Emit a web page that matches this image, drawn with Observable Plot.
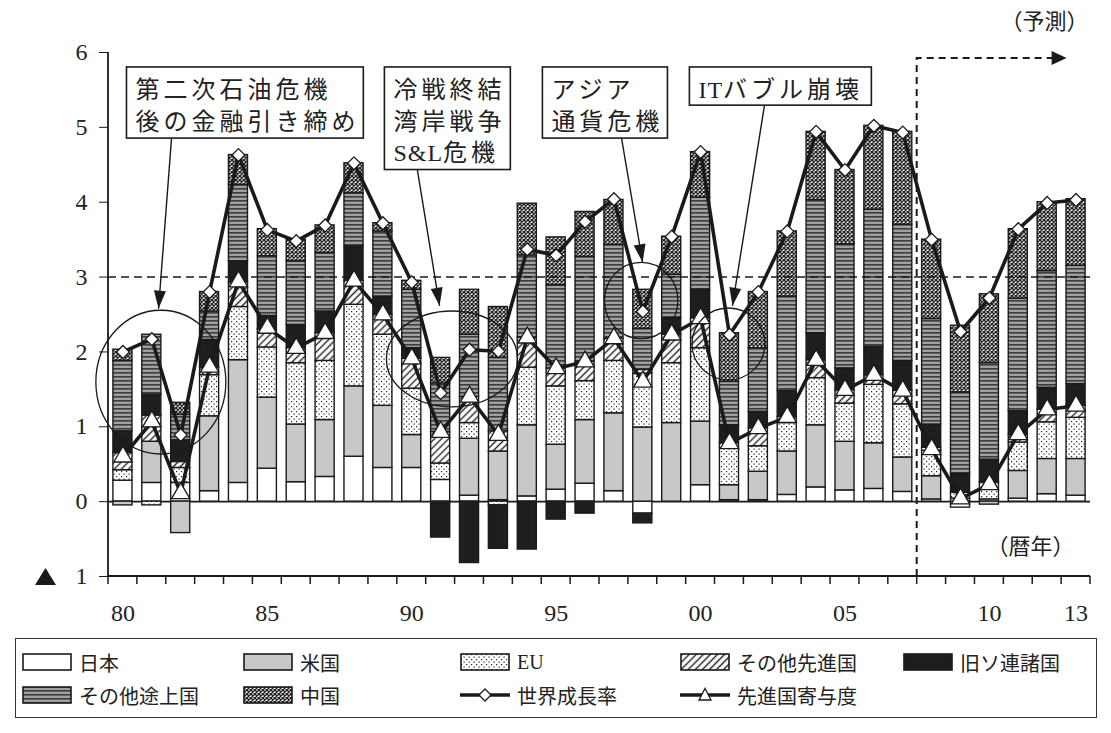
<!DOCTYPE html>
<html>
<head>
<meta charset="utf-8">
<script src="https://cdn.jsdelivr.net/npm/d3@7"></script>
<script src="https://cdn.jsdelivr.net/npm/@observablehq/plot@0.6"></script>
<style>
  body { margin: 0; background: #fff; }
  #wrap { position: relative; width: 1111px; height: 733px; overflow: hidden; }
  #legend { position: absolute; left: 15px; top: 638px; width: 1082px; height: 80px;
            border: 1.5px solid #333; box-sizing: border-box; }
  .item { position: absolute; display: flex; align-items: center; height: 24px;
          font: 20px "Liberation Serif", "Noto Sans CJK JP", serif; color: #222; }
  .item svg { margin-right: 7px; }
</style>
</head>
<body>
<!-- fill patterns shared by the bars and the legend swatches -->
<svg width="0" height="0" style="position:absolute">
  <defs>
    <pattern id="p-eu" patternUnits="userSpaceOnUse" width="5" height="5">
      <rect width="5" height="5" fill="#fff"/>
      <rect x="1" y="1" width="1.2" height="1.2" fill="#222"/>
      <rect x="3.5" y="3.5" width="1.2" height="1.2" fill="#222"/>
    </pattern>
    <pattern id="p-oadv" patternUnits="userSpaceOnUse" width="5" height="5" patternTransform="rotate(45)">
      <rect width="5" height="5" fill="#fff"/>
      <line x1="2.5" y1="0" x2="2.5" y2="5" stroke="#222" stroke-width="1.4"/>
    </pattern>
    <pattern id="p-odev" patternUnits="userSpaceOnUse" width="6" height="4">
      <rect width="6" height="4" fill="#a0a0a0"/>
      <rect y="0" width="6" height="1.6" fill="#3c3c3c"/>
    </pattern>
    <pattern id="p-china" patternUnits="userSpaceOnUse" width="4" height="4">
      <rect width="4" height="4" fill="#fff"/>
      <path d="M0,0L4,4M4,0L0,4" stroke="#222" stroke-width="1.4"/>
    </pattern>
  </defs>
</svg>
<div id="wrap"></div>
<script>
// 暦年
const years = [1980, 1981, 1982, 1983, 1984, 1985, 1986, 1987, 1988, 1989,
               1990, 1991, 1992, 1993, 1994, 1995, 1996, 1997, 1998, 1999,
               2000, 2001, 2002, 2003, 2004, 2005, 2006, 2007, 2008, 2009,
               2010, 2011, 2012, 2013];
const tickYears = [1980, 1985, 1990, 1995, 2000, 2005, 2010, 2013];
const yTicks = [-1, 0, 1, 2, 3, 4, 5, 6];

// 地域別の世界成長率への寄与度（%ポイント）
const seriesNames = ["日本", "米国", "EU", "その他先進国", "旧ソ連諸国", "その他途上国", "中国"];
const japan = [0.28, 0.25, 0.25, 0.14, 0.25, 0.44, 0.26, 0.33, 0.60, 0.45,
               0.45, 0.29, 0.08, 0.02, 0.07, 0.16, 0.24, 0.14, -0.16, 0.00,
               0.22, 0.02, 0.02, 0.09, 0.19, 0.15, 0.17, 0.13, 0.03, -0.08,
               0.03, 0.04, 0.10, 0.08];
const usa = [-0.05, 0.55, -0.42, 1.00, 1.64, 0.95, 0.77, 0.76, 0.94, 0.83,
             0.44, -0.02, 0.76, 0.65, 0.95, 0.60, 0.85, 1.04, 0.99, 1.05,
             0.85, 0.20, 0.38, 0.58, 0.83, 0.65, 0.61, 0.46, 0.31, 0.04,
             -0.04, 0.37, 0.47, 0.49];
const eu = [0.14, -0.05, 0.20, 0.55, 0.71, 0.67, 0.82, 0.79, 1.09, 0.95,
            0.62, 0.22, 0.21, -0.05, 0.77, 0.78, 0.52, 0.70, 0.72, 0.80,
            0.98, 0.49, 0.34, 0.38, 0.63, 0.51, 0.78, 0.71, 0.34, 0.08,
            0.22, 0.38, 0.49, 0.55];
const otherAdvanced = [0.23, 0.35, 0.08, 0.10, 0.33, 0.24, 0.20, 0.37, 0.32, 0.27,
                       0.40, 0.42, 0.35, 0.27, 0.40, 0.24, 0.26, 0.30, 0.05, 0.38,
                       0.40, 0.07, 0.24, 0.08, 0.24, 0.18, 0.13, 0.18, 0.04, 0.00,
                       0.02, 0.10, 0.17, 0.16];
const formerSoviet = [0.29, 0.28, 0.29, 0.37, 0.28, 0.18, 0.31, 0.29, 0.46, 0.24,
                      0.14, -0.46, -0.82, -0.58, -0.64, -0.24, -0.16, 0.00, -0.13, 0.22,
                      0.38, 0.24, 0.22, 0.35, 0.36, 0.29, 0.38, 0.40, 0.31, 0.25,
                      0.29, 0.32, 0.29, 0.29];
const otherDeveloping = [0.94, 0.80, 0.34, 0.38, 1.02, 0.80, 0.85, 0.78, 0.71, 0.87,
                         0.78, 0.65, 0.83, 0.98, 1.10, 1.11, 1.40, 1.25, 0.55, 0.58,
                         1.23, 0.58, 0.85, 1.26, 1.78, 1.66, 1.83, 1.82, 1.41, 1.09,
                         1.29, 1.50, 1.56, 1.58];
const china = [0.15, 0.00, 0.16, 0.26, 0.40, 0.36, 0.29, 0.37, 0.40, 0.11,
               0.12, 0.34, 0.60, 0.68, 0.69, 0.64, 0.60, 0.60, 0.52, 0.51,
               0.61, 0.65, 0.75, 0.87, 0.91, 0.99, 1.12, 1.24, 1.06, 0.89,
               0.92, 0.93, 0.92, 0.89];

// 折れ線：世界成長率と先進国寄与度（%）
const worldGrowth = [2.00, 2.17, 0.89, 2.80, 4.63, 3.63, 3.48, 3.69, 4.52, 3.72,
                     2.93, 1.45, 2.03, 2.01, 3.37, 3.29, 3.74, 4.04, 2.54, 3.54,
                     4.67, 2.23, 2.80, 3.61, 4.94, 4.43, 5.02, 4.93, 3.50, 2.27,
                     2.72, 3.64, 3.99, 4.03];
const advancedContribution = [0.60, 1.07, 0.11, 1.80, 2.94, 2.32, 2.05, 2.25, 2.95, 2.50,
                              1.91, 0.93, 1.40, 0.89, 2.19, 1.78, 1.87, 2.18, 1.60, 2.23,
                              2.45, 0.78, 0.98, 1.13, 1.89, 1.49, 1.69, 1.48, 0.70, 0.04,
                              0.23, 0.90, 1.23, 1.28];

// bar fills, in the same order as seriesNames
const seriesFills = ["#ffffff", "#c8c8c8", "url(#p-eu)", "url(#p-oadv)", "#1e1e1e", "url(#p-odev)", "url(#p-china)"];

const FONT = '"Liberation Serif", "Noto Sans CJK JP", serif';
const INK = "#1a1a1a";

// long table for the stacked bars (series-major so the stack follows the legend order)
const seriesValues = [japan, usa, eu, otherAdvanced, formerSoviet, otherDeveloping, china];
const bars = [];
seriesNames.forEach((name, s) => {
  years.forEach((year, i) => {
    const value = seriesValues[s][i];
    if (value !== 0) bars.push({year, series: name, value});
  });
});
const worldRows = years.map((year, i) => ({year, value: worldGrowth[i]}));
const advancedRows = years.map((year, i) => ({year, value: advancedContribution[i]}));

// event annotations, positioned in data units (years / %)
const notes = [
  {lines: ["第二次石油危機", "後の金融引き締め"], box: [1980.14, 5.80, 1988.34, 4.85],
   from: [1981.70, 4.85], to: [1981.25, 2.57], ring: [1981.33, 1.59, 2.25, 0.96]},
  {lines: ["冷戦終結", "湾岸戦争", "S&L危機"], box: [1989.07, 5.80, 1993.43, 4.43],
   from: [1990.21, 4.43], to: [1990.98, 2.61], ring: [1991.41, 1.90, 2.27, 0.64]},
  {lines: ["アジア", "通貨危機"], box: [1994.54, 5.80, 1998.87, 4.85],
   from: [1997.28, 4.85], to: [1998.01, 3.19], ring: [1997.96, 2.68, 1.27, 0.51]},
  {lines: ["ITバブル崩壊"], box: [1999.63, 5.80, 2005.93, 5.29],
   from: [2002.23, 5.29], to: [2001.12, 2.61], ring: [2000.98, 2.10, 1.26, 0.48]}
];
const forecastStart = 2007.5;
const forecastArrow = {top: 5.92, tip: 2012.69};

function arrowHead(g, x0, y0, x1, y1, len, half) {
  const a = Math.atan2(y1 - y0, x1 - x0);
  const bx = x1 - len * Math.cos(a), by = y1 - len * Math.sin(a);
  const nx = -Math.sin(a) * half, ny = Math.cos(a) * half;
  g.append("path")
    .attr("d", `M${x1},${y1}L${bx + nx},${by + ny}L${bx - nx},${by - ny}Z`)
    .attr("fill", INK);
}

// set a callout line: wide spacing for kana/kanji, tight for Latin letters
function spacedText(text, str) {
  const runs = str.match(/[A-Za-z&]+|[^A-Za-z&]+/g);
  for (const r of runs) {
    const latin = /[A-Za-z&]/.test(r);
    text.append("tspan").attr("letter-spacing", latin ? 1 : 4).text(r);
  }
}

// axis lines, boundary ticks, forecast marker and event callouts
function decorations(index, scales, values, dims) {
  const x = scales.x, y = scales.y;
  const step = x(years[1]) - x(years[0]);
  const bw = x.bandwidth ? x.bandwidth() : scales.scales.x.bandwidth;
  const xc = yr => x(years[0]) + bw / 2 + (yr - years[0]) * step;
  const left = dims.marginLeft, right = dims.width - dims.marginRight;
  const g = d3.create("svg:g").attr("text-anchor", "start");

  // axes
  g.append("line").attr("x1", left).attr("x2", left).attr("y1", y(6)).attr("y2", y(-1))
    .attr("stroke", INK).attr("stroke-width", 1.8);
  g.append("line").attr("x1", left).attr("x2", right).attr("y1", y(-1)).attr("y2", y(-1))
    .attr("stroke", INK).attr("stroke-width", 1.8);
  for (let k = 0; k <= years.length; k++) {
    const tx = xc(years[0] + k - 0.5);
    g.append("line").attr("x1", tx).attr("x2", tx).attr("y1", y(-1)).attr("y2", y(-1) + 8)
      .attr("stroke", INK).attr("stroke-width", 1.5);
  }
  // negative sign of the -1 tick label
  const ty = y(-1);
  g.append("path").attr("d", `M35,${ty + 9}L56,${ty + 9}L45.5,${ty - 8}Z`).attr("fill", INK);

  // forecast period
  const fx = xc(forecastStart), fy = y(forecastArrow.top), tipX = xc(forecastArrow.tip);
  g.append("path").attr("d", `M${fx},${y(-1)}V${fy}H${tipX - 14}`)
    .attr("fill", "none").attr("stroke", INK).attr("stroke-width", 2).attr("stroke-dasharray", "7,5");
  arrowHead(g, fx, fy, tipX, fy, 15, 7);
  g.append("text").attr("x", xc(2013.45)).attr("y", y(6.31)).attr("text-anchor", "end")
    .attr("font-family", FONT).attr("font-size", 22).attr("fill", "#222").text("（予測）");
  g.append("text").attr("x", xc(2012.96)).attr("y", y(-0.71)).attr("text-anchor", "end")
    .attr("font-family", FONT).attr("font-size", 22).attr("fill", "#222").text("（暦年）");

  // callouts
  for (const n of notes) {
    const [c, cv, rx, ry] = n.ring;
    g.append("ellipse").attr("cx", xc(c)).attr("cy", y(cv))
      .attr("rx", rx * step).attr("ry", y(0) - y(ry))
      .attr("fill", "none").attr("stroke", INK).attr("stroke-width", 1.3);
    const x0 = xc(n.from[0]), y0 = y(n.from[1]), x1 = xc(n.to[0]), y1 = y(n.to[1]);
    g.append("line").attr("x1", x0).attr("y1", y0).attr("x2", x1).attr("y2", y1)
      .attr("stroke", INK).attr("stroke-width", 1.4);
    arrowHead(g, x0, y0, x1, y1, 18, 6);
    const bx = xc(n.box[0]), by = y(n.box[1]);
    g.append("rect").attr("x", bx).attr("y", by)
      .attr("width", xc(n.box[2]) - bx).attr("height", y(n.box[3]) - by)
      .attr("fill", "#fff").attr("stroke", INK).attr("stroke-width", 1.6);
    n.lines.forEach((line, i) => {
      const t = g.append("text").attr("x", bx + 9).attr("y", by + 31 + i * 31.7)
        .attr("text-anchor", "start")
        .attr("font-family", FONT).attr("font-size", 24).attr("fill", "#222");
      spacedText(t, line);
    });
  }
  return g.node();
}

const chart = Plot.plot({
  width: 1111,
  height: 626,
  marginLeft: 108,
  marginRight: 21,
  marginTop: 52,
  marginBottom: 50,
  style: {fontFamily: FONT, color: "#222", background: "#fff"},
  x: {type: "band", domain: years, paddingInner: 0.34, paddingOuter: 0.17, round: false, axis: null},
  y: {domain: [-1, 6], axis: null},
  color: {type: "ordinal", domain: seriesNames, range: seriesFills},
  marks: [
    Plot.ruleY([0], {stroke: INK, strokeWidth: 1.6}),
    Plot.barY(bars, {x: "year", y: "value", fill: "series", z: "series",
                     stroke: INK, strokeWidth: 1.4}),
    Plot.ruleY([3], {stroke: INK, strokeWidth: 1.6, strokeDasharray: "8,5"}),
    Plot.line(worldRows, {x: "year", y: "value", stroke: INK, strokeWidth: 3.6}),
    Plot.line(advancedRows, {x: "year", y: "value", stroke: INK, strokeWidth: 3.6}),
    Plot.dot(worldRows, {x: "year", y: "value", symbol: "diamond2", r: 5.8,
                         fill: "#fff", stroke: INK, strokeWidth: 1.3}),
    Plot.dot(advancedRows, {x: "year", y: "value", symbol: "triangle", r: 6.8,
                            fill: "#fff", stroke: INK, strokeWidth: 1.3}),
    Plot.axisY({ticks: yTicks, tickSize: 9, tickPadding: 12, fontSize: 24, label: null,
                tickFormat: d => String(Math.abs(d)), stroke: INK}),
    Plot.axisX({ticks: tickYears, tickSize: 0, tickPadding: 27, fontSize: 24, label: null,
                tickFormat: d => String(d).slice(2)}),
    decorations
  ]
});

const wrap = document.getElementById("wrap");
wrap.appendChild(chart);

// legend
const legendItems = [
  {label: "日本", fill: seriesFills[0], col: 0, row: 0},
  {label: "米国", fill: seriesFills[1], col: 1, row: 0},
  {label: "EU", fill: seriesFills[2], col: 2, row: 0},
  {label: "その他先進国", fill: seriesFills[3], col: 3, row: 0},
  {label: "旧ソ連諸国", fill: seriesFills[4], col: 4, row: 0},
  {label: "その他途上国", fill: seriesFills[5], col: 0, row: 1},
  {label: "中国", fill: seriesFills[6], col: 1, row: 1},
  {label: "世界成長率", marker: "diamond", col: 2, row: 1},
  {label: "先進国寄与度", marker: "triangle", col: 3, row: 1}
];
const colX = [6, 227, 444, 664, 887];
const rowY = [11, 44];
const legend = document.createElement("div");
legend.id = "legend";
for (const it of legendItems) {
  const el = document.createElement("div");
  el.className = "item";
  el.style.left = colX[it.col] + "px";
  el.style.top = rowY[it.row] + "px";
  let sw;
  if (it.marker) {
    const m = it.marker === "diamond"
      ? `<path d="M25,3L31,9L25,15L19,9Z" fill="#fff" stroke="${INK}" stroke-width="1.3"/>`
      : `<path d="M25,2.5L31,14L19,14Z" fill="#fff" stroke="${INK}" stroke-width="1.3"/>`;
    sw = `<svg width="50" height="18"><line x1="0" x2="50" y1="9" y2="9" stroke="${INK}" stroke-width="3.4"/>${m}</svg>`;
  } else {
    sw = `<svg width="50" height="18"><rect x="1" y="1" width="48" height="16" fill="${it.fill}" stroke="${INK}" stroke-width="1.6"/></svg>`;
  }
  el.innerHTML = sw + `<span>${it.label}</span>`;
  legend.appendChild(el);
}
wrap.appendChild(legend);
</script>
</body>
</html>
